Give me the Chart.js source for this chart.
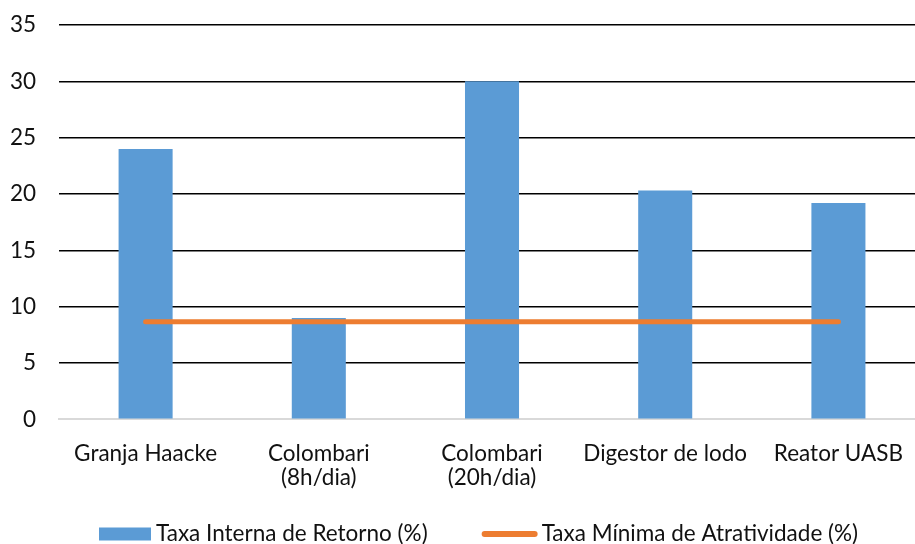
<!DOCTYPE html>
<html>
<head>
<meta charset="utf-8">
<script src="https://cdn.jsdelivr.net/npm/chart.js@4/dist/chart.umd.min.js"></script>
<style>
  html, body { margin: 0; padding: 0; background: #fff; overflow: hidden; }
  #wrap { width: 926px; height: 544px; }
</style>
</head>
<body>
<div id="wrap"><canvas id="c" width="926" height="544"></canvas></div>
<script>
// Categories (projects compared)
const categories = [
  'Granja Haacke',
  ['Colombari', '(8h/dia)'],
  ['Colombari', '(20h/dia)'],
  'Digestor de lodo',
  'Reator UASB'
];
// Internal rate of return per project (%)
const tir = [24, 9, 30, 20.3, 19.2];
// Minimum attractiveness rate (%), same for every project
const tma = [8.65, 8.65, 8.65, 8.65, 8.65];
// Y axis range
const yMin = 0, yMax = 35, yStep = 5;

const FONT = 'Lato, "Liberation Sans", sans-serif';
const FSIZE = 22.5;
Chart.defaults.font.family = FONT;
Chart.defaults.font.size = FSIZE;
Chart.defaults.color = '#111';

// Legend drawn under the axis: a filled box for the bars, a short stroke for the line
const bottomLegend = {
  id: 'bottomLegend',
  afterDraw(chart) {
    const ctx = chart.ctx;
    const cy = 534;
    const bars = chart.data.datasets[1];
    const line = chart.data.datasets[0];
    ctx.save();
    ctx.font = FSIZE + 'px ' + FONT;
    ctx.textBaseline = 'middle';
    let x = 99;
    // bar marker
    ctx.fillStyle = bars.backgroundColor;
    ctx.fillRect(x, cy - 6.5, 52, 13);
    x += 52 + 5;
    ctx.fillStyle = '#111';
    ctx.fillText(bars.label, x, cy);
    x += ctx.measureText(bars.label).width + 54;
    // line marker
    ctx.strokeStyle = line.borderColor;
    ctx.lineWidth = 6;
    ctx.lineCap = 'round';
    ctx.beginPath();
    ctx.moveTo(x + 3, cy);
    ctx.lineTo(x + 53, cy);
    ctx.stroke();
    x += 56 + 4;
    ctx.fillText(line.label, x, cy);
    ctx.restore();
  }
};

new Chart(document.getElementById('c'), {
  type: 'bar',
  data: {
    labels: categories,
    datasets: [
      {
        type: 'line',
        label: 'Taxa Mínima de Atratividade (%)',
        data: tma,
        borderColor: '#ED7D31',
        backgroundColor: '#ED7D31',
        borderWidth: 5,
        borderCapStyle: 'round',
        pointRadius: 0,
        pointHoverRadius: 0,
        order: 0
      },
      {
        label: 'Taxa Interna de Retorno (%)',
        data: tir,
        backgroundColor: '#5B9BD5',
        borderWidth: 0,
        categoryPercentage: 1,
        barPercentage: 0.312,
        order: 1
      }
    ]
  },
  options: {
    responsive: false,
    animation: false,
    layout: { padding: { left: 0, right: 0, top: 25, bottom: 0 } },
    plugins: {
      tooltip: { enabled: false },
      legend: { display: false }
    },
    scales: {
      x: {
        grid: { display: false, drawTicks: false },
        border: { display: true, color: '#d9d9d9', width: 2 },
        ticks: { padding: 23, maxRotation: 0, autoSkip: false, font: { size: FSIZE, lineHeight: 1.06 } },
        afterFit: (s) => { s.height = 124.7; }
      },
      y: {
        min: yMin,
        max: yMax,
        ticks: { stepSize: yStep, padding: 23, font: { size: FSIZE } },
        grid: {
          drawTicks: false,
          lineWidth: 1.5,
          color: (ctx) => (ctx.tick && ctx.tick.value === 0 ? 'rgba(0,0,0,0)' : '#000')
        },
        border: { display: false },
        afterFit: (s) => { s.width = 59; s.paddingTop = 0; s.paddingBottom = 0; }
      }
    }
  },
  plugins: [bottomLegend]
});
</script>
</body>
</html>
